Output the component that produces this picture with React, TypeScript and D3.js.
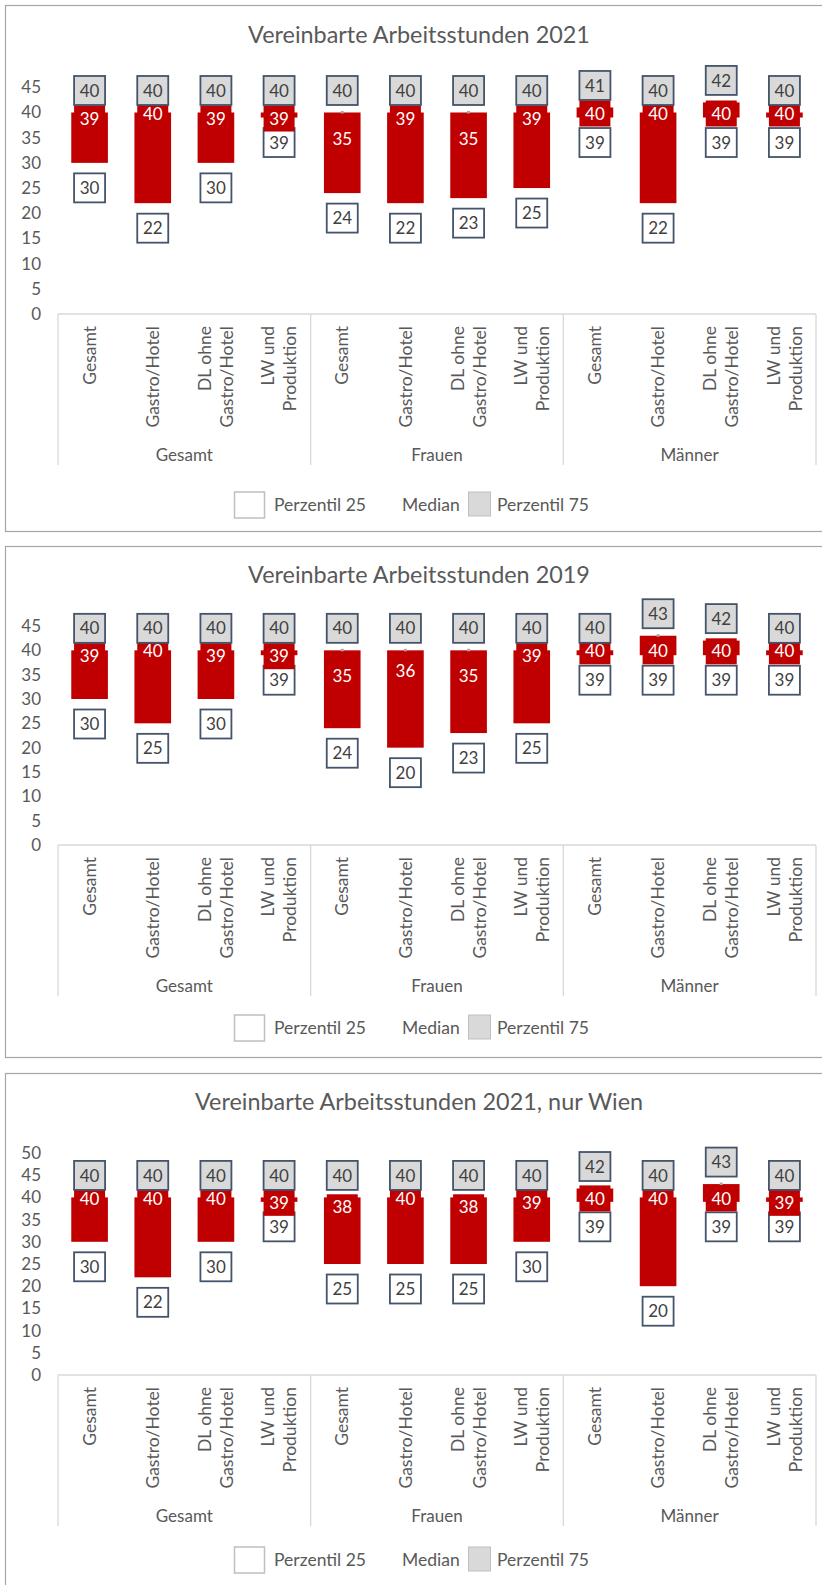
import React, { useEffect, useRef } from "react";
import * as d3 from "d3";

// Gruppen und Branchen (x-Achse, zweistufig)
const groups = ["Gesamt", "Frauen", "Männer"];
const branchLines = [["Gesamt"], ["Gastro/Hotel"], ["DL ohne", "Gastro/Hotel"], ["LW und", "Produktion"]];
const legendLabels = ["Perzentil 25", "Median", "Perzentil 75"];

const titles = [
  "Vereinbarte Arbeitsstunden 2021",
  "Vereinbarte Arbeitsstunden 2019",
  "Vereinbarte Arbeitsstunden 2021, nur Wien",
];

// 2021
const p25_2021 = [30, 22, 30, 39, 24, 22, 23, 25, 39, 22, 39, 39];
const median_2021 = [39, 40, 39, 39, 35, 39, 35, 39, 40, 40, 40, 40];
const p75_2021 = [40, 40, 40, 40, 40, 40, 40, 40, 41, 40, 42, 40];

// 2019
const p25_2019 = [30, 25, 30, 39, 24, 20, 23, 25, 39, 39, 39, 39];
const median_2019 = [39, 40, 39, 39, 35, 36, 35, 39, 40, 40, 40, 40];
const p75_2019 = [40, 40, 40, 40, 40, 40, 40, 40, 40, 43, 42, 40];

// 2021, nur Wien
const p25_wien = [30, 22, 30, 39, 25, 25, 25, 30, 39, 20, 39, 39];
const median_wien = [40, 40, 40, 39, 38, 40, 38, 39, 40, 40, 40, 39];
const p75_wien = [40, 40, 40, 40, 40, 40, 40, 40, 42, 40, 43, 40];

const yMaxes = [45, 45, 50];

const FONT = "Lato, 'Noto Sans', sans-serif";
const RED = "#C00000";
const TEXT = "#595959";
const LABEL_TEXT = "#404040";
const BOX_STROKE = "#44546A";
const AXIS_LINE = "#D9D9D9";

const App = () => {
  const ref = useRef<SVGSVGElement | null>(null);

  useEffect(() => {
    const svg = d3.select(ref.current);
    svg.selectAll("*").remove();

    const panels = [
      { title: titles[0], p25: p25_2021, median: median_2021, p75: p75_2021, yMax: yMaxes[0], frameTop: 5, frameBottom: 531, titleY: 43, topY: 87.3, zeroY: 314, legendY: 505 },
      { title: titles[1], p25: p25_2019, median: median_2019, p75: p75_2019, yMax: yMaxes[1], frameTop: 546, frameBottom: 1057, titleY: 583, topY: 626, zeroY: 845, legendY: 1028 },
      { title: titles[2], p25: p25_wien, median: median_wien, p75: p75_wien, yMax: yMaxes[2], frameTop: 1073, frameBottom: 1700, titleY: 1110, topY: 1153, zeroY: 1375, legendY: 1560 },
    ];

    const cats = groups.flatMap((g) => branchLines.map((b) => `${g}|${b.join(" ")}`));

    const x = d3
      .scaleBand<string>()
      .domain(cats)
      .range([58, 816])
      .paddingInner(0.42)
      .paddingOuter(0.21);
    const step = x.step();
    const cx = (i: number) => (x(cats[i]) as number) + x.bandwidth() / 2;

    panels.forEach((p) => {
      const g = svg.append("g");

      // Rahmen
      g.append("rect")
        .attr("x", 5.5)
        .attr("y", p.frameTop + 0.5)
        .attr("width", 840)
        .attr("height", p.frameBottom - p.frameTop)
        .attr("fill", "white")
        .attr("stroke", "#A6A6A6")
        .attr("stroke-width", 1.2);

      // Titel
      g.append("text")
        .attr("x", 419)
        .attr("y", p.titleY)
        .attr("text-anchor", "middle")
        .attr("font-family", FONT)
        .attr("font-size", 23.4)
        .attr("fill", TEXT)
        .text(p.title);

      const y = d3.scaleLinear().domain([0, p.yMax]).range([p.zeroY, p.topY]);

      // y-Achse
      g.append("g")
        .attr("transform", "translate(44,0)")
        .call(d3.axisLeft(y).tickValues(d3.range(0, p.yMax + 1, 5)).tickSize(0).tickPadding(3))
        .call((a) => a.select(".domain").remove())
        .call((a) =>
          a.selectAll("text").attr("font-family", FONT).attr("font-size", 17).attr("fill", TEXT)
        );

      // x-Achse + Gruppentrenner
      g.append("line")
        .attr("x1", 58)
        .attr("x2", 816)
        .attr("y1", p.zeroY)
        .attr("y2", p.zeroY)
        .attr("stroke", AXIS_LINE)
        .attr("stroke-width", 1.3);
      d3.range(0, groups.length + 1).forEach((k) => {
        const sx = 58 + k * step * branchLines.length;
        g.append("line")
          .attr("x1", sx)
          .attr("x2", sx)
          .attr("y1", p.zeroY)
          .attr("y2", p.zeroY + 151)
          .attr("stroke", AXIS_LINE)
          .attr("stroke-width", 1.3);
      });

      // Branchen (gedreht)
      cats.forEach((c, i) => {
        const lines = branchLines[i % branchLines.length];
        const t = g
          .append("text")
          .attr("transform", `translate(${cx(i)},${p.zeroY + 12}) rotate(-90)`)
          .attr("text-anchor", "end")
          .attr("font-family", FONT)
          .attr("font-size", 17.5)
          .attr("fill", TEXT);
        lines.forEach((l, j) => {
          t.append("tspan")
            .attr("x", 0)
            .attr("y", (j - (lines.length - 1) / 2) * 22)
            .attr("dy", "0.35em")
            .text(l);
        });
      });

      // Gruppen
      groups.forEach((gr, k) => {
        g.append("text")
          .attr("x", 58 + (k + 0.5) * step * branchLines.length)
          .attr("y", p.zeroY + 141)
          .attr("dy", "0.35em")
          .attr("text-anchor", "middle")
          .attr("font-family", FONT)
          .attr("font-size", 17)
          .attr("fill", TEXT)
          .text(gr);
      });

      const data = cats.map((c, i) => ({ i, p25: p.p25[i], median: p.median[i], p75: p.p75[i] }));

      // Balken P25 bis P75
      g.selectAll("rect.bar")
        .data(data)
        .enter()
        .append("rect")
        .attr("class", "bar")
        .attr("x", (d) => x(cats[d.i]) as number)
        .attr("width", x.bandwidth())
        .attr("y", (d) => y(d.p75))
        .attr("height", (d) => y(d.p25) - y(d.p75))
        .attr("fill", RED);

      // kleiner Marker bei P75
      g.selectAll("rect.dot")
        .data(data)
        .enter()
        .append("rect")
        .attr("class", "dot")
        .attr("x", (d) => cx(d.i) - 1.5)
        .attr("y", (d) => y(d.p75) - 1.5)
        .attr("width", 3)
        .attr("height", 2.5)
        .attr("fill", "#A6A6A6");

      const boxW = 31;
      const boxH = 29;

      const label = (
        key: "p25" | "median" | "p75",
        top: (d: (typeof data)[number]) => number,
        h: number,
        fill: string,
        stroke: string | null,
        color: string
      ) => {
        const lg = g
          .selectAll(`g.${key}`)
          .data(data)
          .enter()
          .append("g")
          .attr("class", key);
        lg.append("rect")
          .attr("x", (d) => cx(d.i) - boxW / 2)
          .attr("y", top)
          .attr("width", boxW)
          .attr("height", h)
          .attr("fill", fill)
          .attr("stroke", stroke ?? "none")
          .attr("stroke-width", 1.8);
        lg.append("text")
          .attr("x", (d) => cx(d.i))
          .attr("y", (d) => top(d) + h / 2)
          .attr("dy", "0.36em")
          .attr("text-anchor", "middle")
          .attr("font-family", FONT)
          .attr("font-size", 17)
          .attr("fill", color)
          .text((d) => String(d[key]));
      };

      label("p25", (d) => y(d.p25) + 10.5, boxH, "white", BOX_STROKE, LABEL_TEXT);
      label("median", (d) => y(d.median) - 12, 26, RED, null, "white");
      label("p75", (d) => y(d.p75) - 7.5 - boxH, boxH, "#D9D9D9", BOX_STROKE, LABEL_TEXT);

      // Legende
      const ly = p.legendY;
      g.append("rect")
        .attr("x", 234.5)
        .attr("y", ly - 13)
        .attr("width", 30)
        .attr("height", 26)
        .attr("fill", "white")
        .attr("stroke", "#BFBFBF")
        .attr("stroke-width", 1.5);
      g.append("rect")
        .attr("x", 468.5)
        .attr("y", ly - 13)
        .attr("width", 22)
        .attr("height", 24)
        .attr("fill", "#D9D9D9")
        .attr("stroke", "#BFBFBF")
        .attr("stroke-width", 1);
      [274, 402, 497].forEach((lx, k) => {
        g.append("text")
          .attr("x", lx)
          .attr("y", ly)
          .attr("dy", "0.35em")
          .attr("font-family", FONT)
          .attr("font-size", 17.5)
          .attr("fill", TEXT)
          .text(legendLabels[k]);
      });
    });
  }, []);

  return (
    <svg
      ref={ref}
      width={822}
      height={1585}
      style={{ position: "absolute", left: 0, top: 0, background: "white" }}
    />
  );
};

export default App;
